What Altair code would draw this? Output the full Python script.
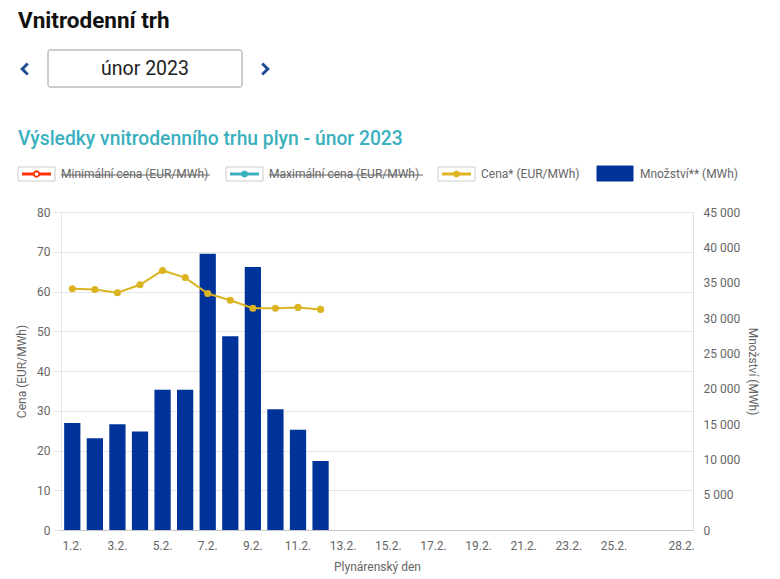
import altair as alt
import pandas as pd

# ---- data ----
days = [f"{d}.2." for d in range(1, 29)]
traded_days = days[:12]
quantity_mwh = [15150, 13000, 14950, 13950, 19850, 19850, 39100, 27400, 37200, 17100, 14200, 9750]
price_eur = [60.7, 60.5, 59.7, 61.7, 65.3, 63.5, 59.5, 57.8, 55.8, 55.8, 56.0, 55.5]
tick_labels = ["1.2.", "3.2.", "5.2.", "7.2.", "9.2.", "11.2.", "13.2.", "15.2.",
               "17.2.", "19.2.", "21.2.", "23.2.", "25.2.", "28.2."]
left_ticks = [0, 10, 20, 30, 40, 50, 60, 70, 80]
right_ticks = [0, 5000, 10000, 15000, 20000, 25000, 30000, 35000, 40000, 45000]
legend_labels = ["Minimální cena (EUR/MWh)", "Maximální cena (EUR/MWh)", "Cena* (EUR/MWh)", "Množství** (MWh)"]

page_title = "Vnitrodenní trh"
month_label = "únor 2023"
chart_title = "Výsledky vnitrodenního trhu plyn - únor 2023"

FONT = "Roboto"
BLUE = "#00339a"
GOLD = "#dcb422"
RED = "#ff3300"
TEAL = "#3ab0bf"
GREY = "#666666"

bars_df = pd.DataFrame({"den": traded_days, "mnozstvi": quantity_mwh})
line_df = pd.DataFrame({"den": traded_days, "cena": price_eur})
one = pd.DataFrame({"k": [0]})

xscale = alt.Scale(domain=days, paddingInner=0.28, paddingOuter=0.14)
xaxis = alt.Axis(values=tick_labels, title="Plynárenský den", labelAngle=0, ticks=False,
                 labelPadding=10, titlePadding=10, labelColor=GREY, titleColor=GREY,
                 labelFont=FONT, titleFont=FONT, labelFontSize=12, titleFontSize=12,
                 titleFontWeight="normal", domainColor="#c8c8c8", grid=False)

bars = alt.Chart(bars_df).mark_bar(color=BLUE).encode(
    x=alt.X("den:N", sort=days, scale=xscale, axis=xaxis),
    y=alt.Y("mnozstvi:Q", scale=alt.Scale(domain=[0, 45000]),
            axis=alt.Axis(orient="right", values=right_ticks, title="Množství (MWh)",
                          labelExpr="replace(format(datum.value, ','), ',', ' ')",
                          grid=False, ticks=False, labelPadding=10, titlePadding=6,
                          domainColor="#e0e0e0", labelColor=GREY, titleColor=GREY,
                          labelFont=FONT, titleFont=FONT, labelFontSize=12, titleFontSize=12,
                          titleFontWeight="normal")),
)

line = alt.Chart(line_df).mark_line(color=GOLD, strokeWidth=2,
                                    point=alt.OverlayMarkDef(color=GOLD, size=50, filled=True, opacity=1)).encode(
    x=alt.X("den:N", sort=days, scale=xscale, axis=xaxis),
    y=alt.Y("cena:Q", scale=alt.Scale(domain=[0, 80]),
            axis=alt.Axis(orient="left", values=left_ticks, title="Cena (EUR/MWh)",
                          grid=True, gridColor="#e6e6e6", tickColor="#e6e6e6", tickSize=8,
                          labelPadding=3, titlePadding=8, domainColor="#e6e6e6",
                          labelColor=GREY, titleColor=GREY, labelFont=FONT, titleFont=FONT,
                          labelFontSize=12, titleFontSize=12, titleFontWeight="normal")),
)

def txt(s, x, y, size, color, weight="normal", align="left"):
    return alt.Chart(one).mark_text(text=s, align=align, baseline="middle", font=FONT,
                                    fontSize=size, fontWeight=weight, color=color).encode(
        x=alt.value(x), y=alt.value(y))

def box(x1, x2, y1, y2, fill="white", stroke="#cccccc", radius=0):
    return alt.Chart(one).mark_rect(fill=fill, stroke=stroke, strokeWidth=1, cornerRadius=radius).encode(
        x=alt.value(x1), x2=alt.value(x2), y=alt.value(y1), y2=alt.value(y2))

def hrule(x1, x2, y, color, width=1):
    return alt.Chart(one).mark_rule(color=color, strokeWidth=width).encode(
        x=alt.value(x1), x2=alt.value(x2), y=alt.value(y))

def pt(x, y, shape, size, fill, stroke, sw=1.5, filled=True):
    return alt.Chart(one).mark_point(shape=shape, size=size, filled=filled, fill=fill, stroke=stroke,
                                     strokeWidth=sw, opacity=1).encode(x=alt.value(x), y=alt.value(y))

chev_l = "M0.5,-1L-0.5,0L0.5,1"
chev_r = "M-0.5,-1L0.5,0L-0.5,1"

ly = -38  # legend centre
header = [
    txt(page_title, -43, -191, 22.5, "#111111", weight="bold"),
    box(-13, 181, -162, -125, stroke="#9a9a9a", radius=2),
    txt(month_label, 84, -143, 19.5, "#222222", align="center"),
    alt.Chart(one).mark_point(shape=chev_l, size=120, filled=False, stroke="#1f4e96", strokeWidth=3,
                              opacity=1).encode(x=alt.value(-36), y=alt.value(-143)),
    alt.Chart(one).mark_point(shape=chev_r, size=120, filled=False, stroke="#1f4e96", strokeWidth=3,
                              opacity=1).encode(x=alt.value(204), y=alt.value(-143)),
    txt(chart_title, -43, -73, 19.3, TEAL, weight=500),
    # legend item 1
    box(-43, -6, ly - 7, ly + 7),
    hrule(-39, -10, ly, RED, 3),
    pt(-24.5, ly, "circle", 30, "white", RED, 1.8),
    txt(legend_labels[0], 0, ly, 12, GREY),
    hrule(0, 149, ly + 1, GREY, 1),
    # legend item 2
    box(165, 202, ly - 7, ly + 7),
    hrule(169, 198, ly, TEAL, 3),
    pt(183.5, ly, "circle", 36, TEAL, TEAL, 1),
    txt(legend_labels[1], 208, ly, 12, GREY),
    hrule(208, 362, ly + 1, GREY, 1),
    # legend item 3
    box(377, 414, ly - 7, ly + 7),
    hrule(381, 410, ly, GOLD, 3),
    pt(395.5, ly, "circle", 36, GOLD, GOLD, 1),
    txt(legend_labels[2], 420, ly, 12, GREY),
    # legend item 4
    box(536, 572, ly - 8, ly + 7, fill=BLUE, stroke=BLUE),
    txt(legend_labels[3], 579, ly, 12, GREY),
]

chart = alt.layer(bars, line, *header).resolve_scale(y="independent").properties(
    width=632, height=318,
    autosize=alt.AutoSizeParams(type="none"),
    padding={"left": 61, "top": 212, "right": 87, "bottom": 49},
    background="white",
).configure_view(stroke=None)

chart.save("out.html", embed_options={"renderer": "svg", "actions": False})
